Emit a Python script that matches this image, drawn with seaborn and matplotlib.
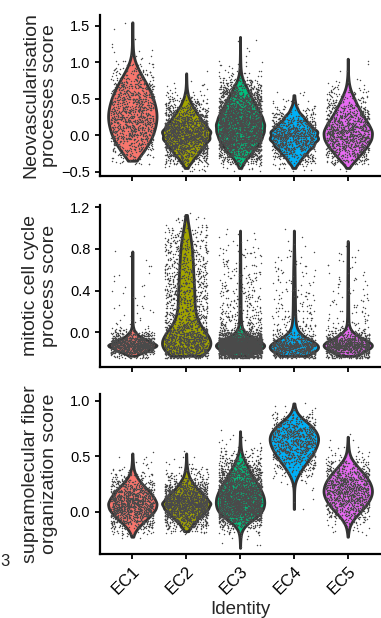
"""
Stacked Seurat-style violin plots (module scores per EC cluster).
Each violin is built from binned score counts read off the figure;
the grey cloud is the same cells, jittered by regplot.
"""

import numpy as np
import pandas as pd
import matplotlib
matplotlib.use("Agg")
import matplotlib.pyplot as plt
import matplotlib.ticker as mtick
import seaborn as sns

# ── Data ───────────────────────────────────────────────────────────────────────
GROUPS = ["EC1", "EC2", "EC3", "EC4", "EC5"]

# panel 1 — Neovascularisation processes score (bin centres, width 0.1)
P1_LEVELS = [-0.45, -0.35, -0.25, -0.15, -0.05, 0.05, 0.15, 0.25, 0.35, 0.45, 0.55,
             0.65, 0.75, 0.85, 0.95, 1.05, 1.15, 1.25, 1.35, 1.45, 1.55]
P1_EC1 = [0, 19, 51, 76, 99, 112, 122, 127, 123, 114, 102, 84, 64, 42, 22, 8, 3, 2, 1, 1, 1]
P1_EC2 = [16, 82, 164, 246, 312, 328, 262, 180, 115, 59, 23, 7, 3, 1, 0, 0, 0, 0, 0, 0, 0]
P1_EC3 = [13, 87, 195, 304, 382, 425, 434, 391, 326, 252, 182, 122, 52, 17, 7, 4, 2, 1, 1, 0, 0]
P1_EC4 = [10, 52, 105, 164, 206, 200, 137, 80, 32, 10, 4, 0, 0, 0, 0, 0, 0, 0, 0, 0, 0]
P1_EC5 = [4, 57, 105, 153, 185, 191, 162, 124, 92, 63, 38, 15, 6, 2, 1, 1, 0, 0, 0, 0, 0]

# panel 2 — mitotic cell cycle process score (bin centres, width 0.05)
P2_LEVELS = [-0.225, -0.175, -0.125, -0.075, -0.025, 0.025, 0.075, 0.125, 0.175, 0.225,
             0.275, 0.325, 0.375, 0.425, 0.475, 0.525, 0.575, 0.625, 0.675, 0.725,
             0.775, 0.825, 0.875, 0.925, 0.975, 1.025, 1.075, 1.125]
P2_EC1 = [50, 275, 456, 250, 90, 23, 6, 4, 3, 3, 3, 3, 2, 2, 2, 2, 1, 2, 1, 1,
          1, 0, 0, 0, 0, 0, 0, 0]
P2_EC2 = [134, 159, 167, 167, 142, 100, 75, 63, 55, 50, 50, 52, 50, 48, 47, 45, 43, 42, 40, 38,
          37, 35, 30, 25, 20, 13, 7, 3]
P2_EC3 = [300, 650, 1000, 600, 250, 80, 45, 30, 25, 22, 20, 20, 18, 17, 15, 14, 12, 11, 10, 9,
          8, 6, 4, 3, 2, 0, 0, 0]
P2_EC4 = [117, 235, 293, 132, 59, 23, 18, 14, 12, 11, 10, 10, 9, 8, 8, 7, 7, 6, 5, 4,
          3, 2, 1, 1, 1, 0, 0, 0]
P2_EC5 = [118, 235, 392, 235, 98, 31, 12, 9, 8, 7, 7, 6, 6, 5, 5, 5, 4, 4, 3, 3,
          2, 1, 1, 0, 0, 0, 0, 0]

# panel 3 — supramolecular fiber organization score (bin centres, width 0.05)
P3_LEVELS = [-0.325, -0.275, -0.225, -0.175, -0.125, -0.075, -0.025, 0.025, 0.075, 0.125,
             0.175, 0.225, 0.275, 0.325, 0.375, 0.425, 0.475, 0.525, 0.575, 0.625,
             0.675, 0.725, 0.775, 0.825, 0.875, 0.925, 0.975]
P3_EC1 = [0, 0, 6, 24, 61, 112, 159, 194, 204, 180, 147, 102, 61, 29, 12, 6, 3, 1, 0, 0,
          0, 0, 0, 0, 0, 0, 0]
P3_EC2 = [0, 0, 0, 26, 72, 138, 214, 290, 329, 270, 197, 125, 72, 33, 16, 7, 3, 1, 0, 0,
          0, 0, 0, 0, 0, 0, 0]
P3_EC3 = [1, 3, 7, 21, 69, 172, 276, 328, 345, 338, 310, 269, 224, 172, 131, 90, 52, 24, 10, 5,
          3, 1, 0, 0, 0, 0, 0]
P3_EC4 = [0, 0, 0, 0, 0, 0, 0, 1, 1, 1, 1, 2, 7, 19, 35, 53, 73, 91, 105, 115,
          117, 105, 82, 49, 18, 6, 2]
P3_EC5 = [0, 0, 1, 5, 12, 31, 62, 96, 124, 144, 155, 150, 136, 112, 81, 50, 23, 9, 5, 2,
          1, 0, 0, 0, 0, 0, 0]

YLABELS = ["Neovascularisation\nprocesses score",
           "mitotic cell cycle\nprocess score",
           "supramolecular fiber\norganization score"]

# ── Style ──────────────────────────────────────────────────────────────────────
PALETTE = dict(zip(GROUPS, ["#F8766D", "#A3A500", "#00BF7D", "#00B0F6", "#E76BF3"]))
OUTLINE = "#333333"
DOTS    = "#4a4a4a"

sns.set_style("ticks")
plt.rcParams.update({
    "font.family":       ["Liberation Sans", "DejaVu Sans"],
    "axes.spines.top":   False,
    "axes.spines.right": False,
    "axes.linewidth":    1.6,
    "axes.edgecolor":    "black",
    "xtick.major.width": 1.3,
    "ytick.major.width": 1.3,
    "xtick.major.size":  3.5,
    "ytick.major.size":  3.5,
    "xtick.color":       "black",
    "ytick.color":       "black",
    "xtick.labelsize":   10.5,
    "ytick.labelsize":   10.5,
})

np.random.seed(3)  # regplot jitter


def _frame(levels, counts):
    rows = []
    for g, c in zip(GROUPS, counts):
        vals = np.repeat(levels, c)
        rows.append(pd.DataFrame({"identity": g, "score": vals}))
    df = pd.concat(rows, ignore_index=True)
    df["pos"] = df["identity"].map({g: float(i) for i, g in enumerate(GROUPS)})
    return df


def _minus(x, _):
    return f"{x:.1f}".replace("-", "\u2212")


PANELS = [
    (P1_LEVELS, [P1_EC1, P1_EC2, P1_EC3, P1_EC4, P1_EC5], 0.05, (-0.56, 1.65),
     [-0.5, 0.0, 0.5, 1.0, 1.5], [0.2625, 0.7152, 0.735, 0.2605]),
    (P2_LEVELS, [P2_EC1, P2_EC2, P2_EC3, P2_EC4, P2_EC5], 0.025, (-0.33, 1.22),
     [0.0, 0.4, 0.8, 1.2], [0.2625, 0.4066, 0.735, 0.2617]),
    (P3_LEVELS, [P3_EC1, P3_EC2, P3_EC3, P3_EC4, P3_EC5], 0.025, (-0.38, 1.06),
     [0.0, 0.5, 1.0], [0.2625, 0.1036, 0.735, 0.2589]),
]

fig = plt.figure(figsize=(3.81, 6.18), dpi=100)

for i, (levels, counts, half, ylim, yticks, rect) in enumerate(PANELS):
    ax = fig.add_axes(rect)
    df = _frame(levels, counts)
    sns.violinplot(data=df, x="identity", y="score", hue="identity", order=GROUPS,
                   palette=PALETTE, saturation=1, density_norm="width", cut=0,
                   inner=None, width=0.9, linewidth=2.0, linecolor=OUTLINE,
                   legend=False, ax=ax)
    sns.regplot(data=df, x="pos", y="score", fit_reg=False, x_jitter=0.4, y_jitter=half,
                color=DOTS, scatter_kws={"s": 1.1, "linewidths": 0, "alpha": 1.0},
                ax=ax)
    ax.set_xlim(-0.6, 4.6)
    ax.set_ylim(*ylim)
    ax.set_yticks(yticks)
    ax.yaxis.set_major_formatter(mtick.FuncFormatter(_minus))
    ax.set_xticks(range(len(GROUPS)))
    ax.set_ylabel(YLABELS[i], fontsize=14, linespacing=1.12)
    ax.yaxis.set_label_coords(-0.15, 0.5)
    if i < 2:
        ax.set_xticklabels([])
        ax.set_xlabel("")
    else:
        ax.set_xticklabels(GROUPS, rotation=45, ha="right", va="top",
                           rotation_mode="anchor", fontsize=12)
        ax.set_xlabel("Identity", fontsize=13.5, labelpad=3)

fig.text(0.0, 1 - 561 / 618, "3", fontsize=12, ha="left", va="center")

fig.savefig("out.png", dpi=100)
